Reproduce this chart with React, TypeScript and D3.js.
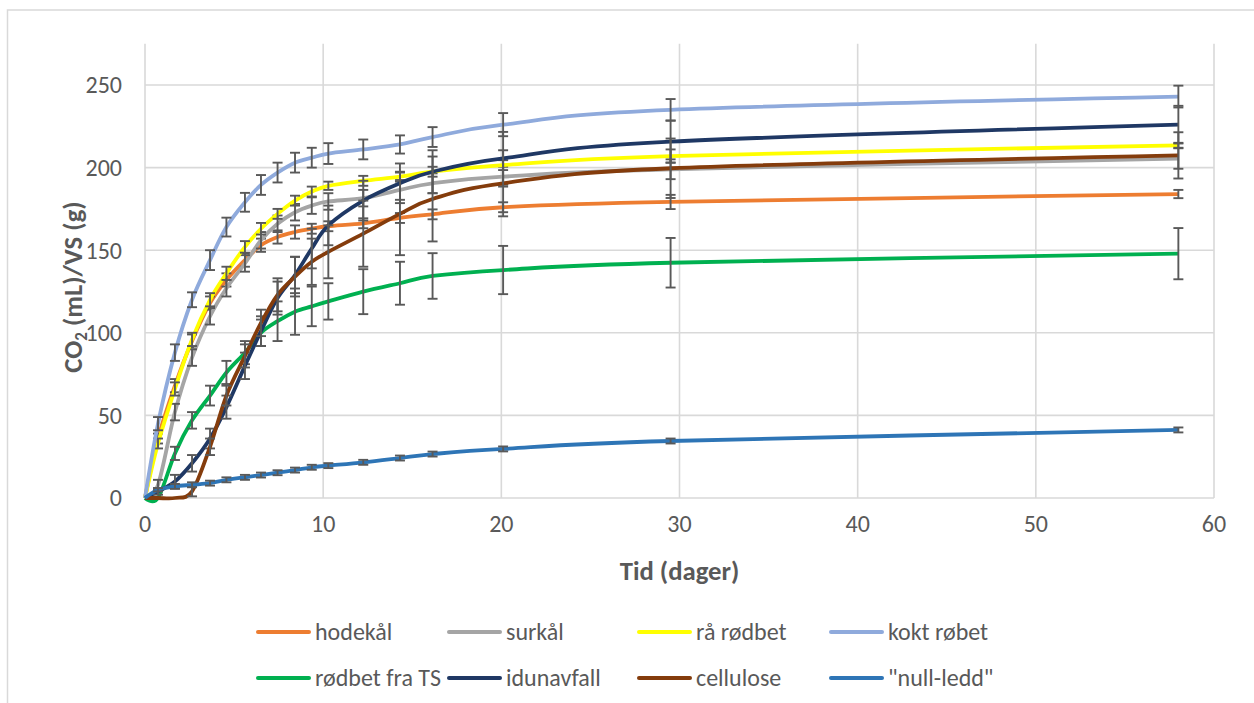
import React from "react";
import * as d3 from "d3";

// Sampling days (x values shared by every series)
const DAYS = [0, 0.73, 1.68, 2.64, 3.65, 4.57, 5.61, 6.51, 7.44, 8.42, 9.36, 10.29, 12.25, 14.31, 16.14, 20.1, 29.5, 58];

// Cumulative CO2 (mL) per g VS, and standard deviation for each sampling day
const hodekal = [0, 36, 68, 95, 118, 132, 144, 153, 158, 161, 163, 164.5, 166.3, 169.5, 171.7, 176, 179.2, 184];
const hodekalSd = [0, 3, 4, 4, 4, 4, 4, 4, 4, 4, 3, 3, 3, 3, 3, 3, 4.3, 2.5];
const surkal = [0, 8, 52, 85, 110, 127, 142, 156, 166, 173, 177, 179.5, 181.5, 186.5, 190.5, 194.5, 199, 205.5];
const surkalSd = [0, 3, 5, 5, 5, 5, 5, 5, 5, 5, 5, 5, 5, 6, 6, 6, 6, 6.2];
const raRodbet = [0, 33, 66, 96, 120, 136, 152, 163, 172, 180, 185.5, 189, 192, 194.5, 197.5, 201.5, 207, 213.5];
const raRodbetSd = [0, 3, 4, 4, 4, 4, 3.5, 3.5, 3, 3, 3, 2.5, 3, 3, 3, 3, 4, 1.5];
const koktRobet = [0, 45, 88, 120, 144, 164, 179, 189.5, 197, 203, 206, 208.5, 211, 214, 218.5, 226, 235, 243];
const koktRobetSd = [0, 4, 5, 4.5, 6, 5.7, 5.7, 6, 6, 6, 6, 6.3, 6, 5.5, 6, 7, 6.5, 6.6];
const rodbetTS = [0, 0, 27, 47, 62, 76, 88, 100, 107, 112.8, 116, 119, 124.9, 130, 134.4, 138, 142.4, 147.9];
const rodbetTSSd = [0, 0, 4, 5, 6, 7, 7, 8, 12, 14, 12, 11, 13.6, 13, 13.8, 14.6, 15, 15.5];
const idunavfall = [0, 4, 10, 21, 36, 55, 80, 101, 121, 135, 151, 165, 180, 190.5, 197.5, 205.6, 215.7, 226];
const idunavfallSd = [0, 2, 4, 5, 6, 7, 8, 9, 10, 11, 12, 12, 12, 12, 13, 16, 12.7, 11.4];
const cellulose = [0, 0, 0, 4, 31, 62, 86, 106, 123, 134, 143, 149, 160, 172, 181, 190.5, 199.6, 207.4];
const celluloseSd = [0, 0, 0, 3, 5, 6, 7, 8, 10, 12, 14, 16, 20, 25, 25.7, 20, 18, 14];
const nullLedd = [0, 5, 7, 8, 9, 11, 12.5, 13.9, 15.3, 16.9, 18.6, 19.6, 21.6, 24.2, 26.6, 29.7, 34.5, 41.2];
const nullLeddSd = [0, 1, 1.5, 1.5, 1.5, 1.5, 1.5, 1.5, 1.5, 1.5, 1.5, 1.5, 1.5, 1.5, 1.5, 1.5, 1.5, 1.5];

const SERIES_NAMES = ["hodekål", "surkål", "rå rødbet", "kokt røbet", "rødbet fra TS", "idunavfall", "cellulose", "\"null-ledd\""];
const SERIES_VALUES = [hodekal, surkal, raRodbet, koktRobet, rodbetTS, idunavfall, cellulose, nullLedd];
const SERIES_SD = [hodekalSd, surkalSd, raRodbetSd, koktRobetSd, rodbetTSSd, idunavfallSd, celluloseSd, nullLeddSd];
const SERIES_COLORS = ["#ED7D31", "#A5A5A5", "#FFFF00", "#8FAADC", "#00B050", "#1F3864", "#843C0C", "#2E75B6"];

const X_TICKS = [0, 10, 20, 30, 40, 50, 60];
const Y_TICKS = [0, 50, 100, 150, 200, 250];

const FONT = "Carlito, Lato, 'Open Sans', sans-serif";
const TEXT = "#595959";
const GRID = "#D9D9D9";

export default function App() {
  const W = 1254;
  const H = 703;
  const x = d3.scaleLinear().domain([0, 60]).range([145, 1214]);
  const y = d3.scaleLinear().domain([0, 275]).range([498, 43.7]);

  const line = d3
    .line<number>()
    .x((_, i) => x(DAYS[i]))
    .y((v) => y(v))
    .curve(d3.curveCardinal.tension(0));

  const legendCols = [258, 449, 639, 831];
  const legendRows = [632, 678];

  return (
    <svg
      width={W}
      height={H}
      style={{ position: "absolute", left: 0, top: 0, background: "#fff" }}
      fontFamily={FONT}
    >
      {/* chart frame */}
      <rect x={7.5} y={10} width={W + 20} height={H + 20} fill="#fff" stroke={GRID} strokeWidth={1.5} />

      {/* gridlines */}
      {Y_TICKS.map((t) => (
        <line key={"gy" + t} x1={x(0)} x2={x(60)} y1={y(t)} y2={y(t)} stroke={GRID} strokeWidth={1.6} />
      ))}
      {X_TICKS.map((t) => (
        <line key={"gx" + t} x1={x(t)} x2={x(t)} y1={y(275)} y2={y(0)} stroke={GRID} strokeWidth={1.6} />
      ))}

      {/* tick labels */}
      {Y_TICKS.map((t) => (
        <text key={"ty" + t} x={122} y={y(t)} dy="0.35em" textAnchor="end" fontSize={24} fill={TEXT}>
          {t}
        </text>
      ))}
      {X_TICKS.map((t) => (
        <text key={"tx" + t} x={x(t)} y={524} dy="0.35em" textAnchor="middle" fontSize={24} fill={TEXT}>
          {t}
        </text>
      ))}

      {/* axis titles */}
      <text x={(x(0) + x(60)) / 2} y={571} dy="0.35em" textAnchor="middle" fontSize={26.7} fontWeight="bold" fill={TEXT}>
        Tid (dager)
      </text>
      <text
        transform="translate(73,287) rotate(-90)"
        textAnchor="middle"
        dy="0.35em"
        fontSize={26.7}
        fontWeight="bold"
        fill={TEXT}
      >
        <tspan>CO</tspan>
        <tspan dy={5} fontSize={17}>2</tspan>
        <tspan dy={-5}> (mL)/VS (g)</tspan>
      </text>

      {/* series: smoothed line followed by its error bars */}
      {SERIES_VALUES.map((vals, si) => (
        <g key={"s" + si}>
          <path d={line(vals) || ""} fill="none" stroke={SERIES_COLORS[si]} strokeWidth={3.8} strokeLinejoin="round" />
          {vals.map((v, i) => {
            const sd = SERIES_SD[si][i];
            if (!sd) return null;
            const cx = x(DAYS[i]);
            const top = y(v + sd);
            const bot = y(v - sd);
            return (
              <g key={"e" + i} stroke="#595959" strokeWidth={1.9}>
                <line x1={cx} x2={cx} y1={top} y2={bot} />
                <line x1={cx - 5} x2={cx + 5} y1={top} y2={top} />
                <line x1={cx - 5} x2={cx + 5} y1={bot} y2={bot} />
              </g>
            );
          })}
        </g>
      ))}

      {/* legend */}
      {SERIES_NAMES.map((name, i) => {
        const lx = legendCols[i % 4];
        const ly = legendRows[Math.floor(i / 4)];
        return (
          <g key={"l" + i}>
            <line x1={lx} x2={lx + 51} y1={ly} y2={ly} stroke={SERIES_COLORS[i]} strokeWidth={4} strokeLinecap="round" />
            <text x={lx + 57} y={ly} dy="0.35em" fontSize={24} fill={TEXT}>
              {name}
            </text>
          </g>
        );
      })}
    </svg>
  );
}
